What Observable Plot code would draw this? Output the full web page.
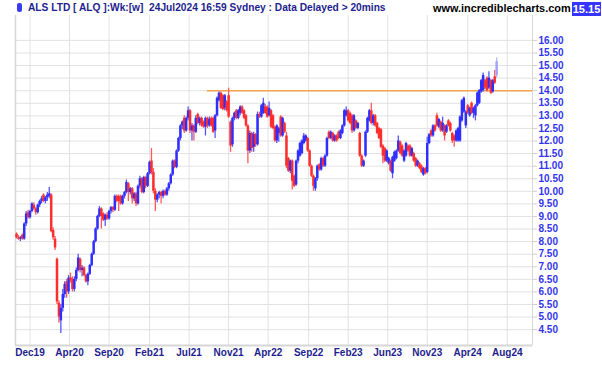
<!DOCTYPE html>
<html>
<head>
<meta charset="utf-8">
<script src="https://cdn.jsdelivr.net/npm/d3@7"></script>
<script src="https://cdn.jsdelivr.net/npm/@observablehq/plot@0.6"></script>
<style>
  html, body { margin: 0; padding: 0; background: #fff; }
  #wrap { position: relative; width: 602px; height: 365px; overflow: hidden;
          font-family: "Liberation Sans", Arial, sans-serif; font-weight: bold; }
  #icon { position: absolute; left: 17px; top: 3px; width: 5px; height: 9px;
          background: #3a3af0; border-radius: 2px; }
  #title { position: absolute; left: 28px; top: 2px; font-size: 10.2px; line-height: 12px;
           color: #1e1e8e; white-space: pre; }
  #site { position: absolute; left: 433px; top: 2px; font-size: 10.9px; line-height: 12px;
          color: #000; white-space: pre; }
  #last { position: absolute; left: 572px; top: 2px; width: 29px; height: 14px;
          background: #3535ff; color: #fff; font-size: 11px; line-height: 14px; text-align: center; }
  #chart { position: absolute; left: 0; top: 0; }
</style>
</head>
<body>
<div id="wrap">
  <div id="chart"></div>
  <div id="icon"></div>
  <div id="title"></div>
  <div id="site"></div>
  <div id="last"></div>
</div>
<script>
// ---- texts ----
const titleText = "ALS LTD [ ALQ ]:Wk:[w]  24Jul2024 16:59 Sydney : Data Delayed > 20mins";
const siteText = "www.incrediblecharts.com";
const lastPriceText = "15.15";

// ---- axis ticks ----
const xTickIndex = [7, 27.5, 48, 69, 89.5, 110, 130.5, 151.5, 172, 192.5, 213, 234, 254.5];
const xTickLabels = ["Dec19","Apr20","Sep20","Feb21","Jul21","Nov21","Apr22","Sep22","Feb23","Jun23","Nov23","Apr24","Aug24"];
const yTicks = [4.5,5.0,5.5,6.0,6.5,7.0,7.5,8.0,8.5,9.0,9.5,10.0,10.5,11.0,11.5,12.0,12.5,13.0,13.5,14.0,14.5,15.0,15.5,16.0];

// ---- resistance line ----
const resistanceLevel = 14.0;
const resistanceFromIndex = 99;

// ---- weekly OHLC (Oct 2019 - Jul 2024) ----
const opens = [
 8.30,8.15,8.10,8.25,8.10,8.70,9.15,8.95,9.20,9.45,
 9.30,9.15,9.45,9.60,9.85,9.60,9.75,9.80,9.85,8.45,
 8.10,7.30,5.55,4.85,5.35,5.90,6.40,6.00,6.55,6.50,
 6.10,6.50,6.85,7.30,6.85,6.95,6.65,6.40,6.70,7.05,
 7.50,8.00,8.50,9.00,9.30,9.10,8.85,9.05,8.90,9.20,
 9.35,9.25,9.80,9.80,9.80,9.50,9.80,9.95,10.30,9.95,
 10.10,9.70,9.90,9.50,10.20,10.50,9.95,10.55,10.20,10.70,
 11.20,10.75,10.00,9.65,9.85,9.95,9.80,10.00,9.85,10.10,
 10.30,10.65,11.20,10.95,11.60,12.10,12.60,12.90,12.40,12.90,
 13.20,12.40,12.60,12.35,13.05,12.70,12.90,12.75,12.55,12.90,
 12.60,12.90,12.90,12.40,13.00,13.60,13.90,13.80,13.30,13.55,
 13.80,12.75,11.85,12.90,13.20,12.90,13.10,13.35,13.20,13.00,
 12.60,11.60,12.30,11.75,12.25,11.85,13.05,12.95,13.10,13.35,
 13.35,13.00,13.20,13.00,12.55,12.00,12.30,12.95,12.20,12.70,
 12.20,11.30,10.80,11.20,10.60,10.25,11.20,11.40,11.50,11.90,
 12.00,12.10,11.60,11.00,10.60,10.10,10.50,11.05,10.85,11.30,
 11.00,11.40,12.35,12.10,12.30,12.00,12.20,12.35,12.10,12.30,
 12.60,13.00,13.20,13.10,13.00,12.40,12.80,12.50,12.30,11.40,
 11.00,11.40,12.35,12.80,13.20,12.70,13.00,12.70,12.50,12.45,
 11.80,11.70,11.20,11.10,11.20,10.70,11.20,11.30,11.60,11.95,
 11.80,11.20,11.40,11.80,11.80,11.40,11.50,11.30,11.00,11.10,
 11.00,10.65,10.90,10.75,11.90,12.40,12.20,12.60,13.00,12.55,
 12.75,12.40,12.60,12.35,12.80,12.70,12.30,12.20,12.00,12.00,
 12.00,12.80,13.15,12.60,13.40,13.00,13.50,13.10,13.00,13.40,
 13.50,13.95,14.00,14.40,14.50,14.10,14.40,13.95,14.55,14.60
];
const highs = [
 8.35,8.25,8.20,8.30,8.75,9.20,9.25,9.25,9.55,9.55,
 9.35,9.50,9.65,9.80,9.90,9.80,9.95,10.15,9.90,8.55,
 8.20,7.35,5.65,5.50,6.10,6.40,6.50,6.65,6.75,6.60,
 6.60,6.95,7.50,7.35,7.05,7.00,6.70,6.75,7.10,7.55,
 8.05,8.55,9.05,9.40,9.35,9.15,9.10,9.15,9.25,9.40,
 9.40,9.85,9.85,9.85,9.85,9.85,10.00,10.45,10.35,10.15,
 10.15,9.95,9.95,10.25,10.60,10.55,10.60,10.60,10.75,11.20,
 11.70,10.90,10.10,9.90,10.00,10.00,10.05,10.05,10.15,10.35,
 10.70,11.25,11.25,11.65,12.15,12.65,12.80,13.00,12.95,13.35,
 13.25,12.70,12.65,13.00,13.10,12.95,12.95,12.80,12.95,12.95,
 12.95,12.95,12.95,13.05,13.75,13.95,13.95,13.85,13.85,13.60,
 14.10,12.80,12.95,13.15,13.25,13.25,13.40,13.40,13.25,13.05,
 12.65,12.40,12.35,12.35,12.30,13.15,13.15,13.45,13.70,13.45,
 13.40,13.55,13.25,13.05,12.60,12.65,12.55,13.00,12.95,12.75,
 12.35,11.35,11.25,11.25,10.65,11.25,11.65,11.95,12.05,12.30,
 12.25,12.15,11.65,11.05,10.65,10.55,11.05,11.10,11.35,11.35,
 11.45,12.15,12.40,12.40,12.35,12.25,12.25,12.40,12.45,12.65,
 13.25,13.35,13.25,13.15,13.05,13.05,12.85,12.75,12.35,11.45,
 11.25,12.40,12.95,13.25,13.50,13.05,13.05,12.75,12.55,12.50,
 11.85,11.75,11.65,11.35,11.25,11.40,11.60,11.65,12.20,12.00,
 11.85,11.65,11.95,11.85,11.85,11.75,11.55,11.35,11.25,11.15,
 11.05,10.95,10.95,12.15,12.30,12.45,12.65,12.65,13.10,12.90,
 12.80,12.95,12.65,12.65,12.85,12.75,12.35,12.25,12.45,12.55,
 13.00,13.65,13.75,13.20,13.45,13.35,13.55,13.35,13.45,13.95,
 14.05,14.45,14.70,14.45,14.55,14.75,14.45,14.45,14.80,15.30
];
const lows = [
 8.10,8.05,8.00,8.05,8.05,8.60,8.90,8.90,9.15,9.25,
 9.05,9.10,9.35,9.50,9.55,9.50,9.60,9.70,8.35,8.05,
 7.65,5.50,4.75,4.35,5.20,5.75,5.75,5.90,6.35,6.00,
 6.00,6.40,6.80,6.75,6.60,6.60,6.35,6.25,6.65,7.00,
 7.45,7.95,8.45,8.95,8.50,8.80,8.60,8.85,8.85,9.10,
 9.15,9.20,9.55,9.20,9.45,9.45,9.70,9.90,9.60,9.85,
 9.50,9.60,9.40,9.45,10.10,9.90,9.90,10.10,10.15,10.65,
 10.65,9.90,9.20,9.55,9.70,9.50,9.70,9.80,9.80,10.00,
 10.25,10.60,10.90,10.90,11.55,12.00,12.45,12.30,12.35,12.80,
 12.30,12.00,12.00,12.30,12.65,12.60,12.55,12.50,12.20,12.50,
 12.55,12.55,12.30,12.10,12.95,13.55,13.25,13.20,13.20,13.15,
 12.90,11.55,11.75,12.80,12.85,12.85,13.00,13.05,12.85,12.55,
 11.10,11.50,11.55,11.55,11.75,11.80,12.90,12.90,13.05,13.05,
 12.90,12.95,12.50,12.45,11.95,11.90,11.95,12.15,12.15,12.30,
 10.90,10.75,10.70,10.05,10.15,10.20,11.10,11.35,11.45,11.85,
 11.95,11.55,10.95,10.55,10.00,10.00,10.40,10.80,10.80,10.95,
 10.95,11.35,12.05,12.05,11.95,11.95,11.95,12.05,12.05,12.25,
 12.55,12.95,12.75,12.65,12.30,12.35,12.45,12.45,11.35,10.95,
 10.95,11.35,12.30,12.75,12.65,12.60,12.55,12.25,12.05,11.70,
 11.10,11.15,11.15,11.05,10.75,10.50,11.15,11.25,11.55,11.45,
 11.35,11.15,11.35,11.55,11.35,11.35,11.15,10.95,10.95,10.85,
 10.70,10.60,10.65,10.70,11.85,12.15,12.15,12.35,12.55,12.50,
 12.35,12.35,12.00,12.30,12.55,12.35,11.90,11.75,11.95,11.95,
 11.95,12.75,13.10,12.50,13.05,12.95,13.05,12.90,12.80,13.35,
 13.45,13.90,13.95,14.05,13.95,14.05,13.85,13.90,14.25,14.50
];
const closes = [
 8.15,8.10,8.15,8.10,8.70,9.10,8.95,9.20,9.50,9.30,
 9.15,9.45,9.60,9.70,9.60,9.75,9.85,9.90,8.40,8.15,
 7.75,5.60,5.00,5.35,5.90,6.30,6.00,6.55,6.45,6.10,
 6.50,6.85,7.35,6.85,6.95,6.65,6.40,6.70,7.05,7.50,
 8.00,8.50,9.00,9.30,9.00,8.85,9.05,8.90,9.20,9.35,
 9.25,9.80,9.60,9.60,9.50,9.80,9.95,10.35,9.95,10.10,
 9.70,9.90,9.50,10.20,10.50,9.95,10.55,10.20,10.70,11.15,
 10.75,10.00,9.65,9.85,9.95,9.80,10.00,9.85,10.10,10.30,
 10.65,11.20,10.95,11.60,12.10,12.60,12.75,12.40,12.90,13.20,
 12.40,12.60,12.35,12.90,12.70,12.90,12.60,12.55,12.90,12.60,
 12.85,12.60,12.35,13.00,13.70,13.90,13.30,13.25,13.80,13.20,
 12.95,11.80,12.90,13.10,12.90,13.20,13.35,13.10,12.90,12.60,
 11.60,12.30,11.70,12.25,11.85,13.05,12.95,13.40,13.50,13.10,
 12.95,13.30,12.55,12.50,12.00,12.60,12.50,12.20,12.90,12.35,
 11.00,10.80,11.20,10.40,10.20,11.20,11.60,11.90,12.00,12.20,
 12.20,11.60,11.00,10.60,10.20,10.50,11.00,10.85,11.30,11.00,
 11.40,12.10,12.10,12.35,12.00,12.20,12.00,12.10,12.40,12.60,
 13.20,13.20,12.80,12.70,12.40,13.00,12.50,12.70,11.40,11.00,
 11.20,12.35,12.90,13.20,12.70,13.00,12.60,12.30,12.10,11.75,
 11.40,11.20,11.60,11.30,10.80,11.35,11.55,11.60,12.00,11.50,
 11.40,11.60,11.90,11.60,11.40,11.70,11.20,11.00,11.20,10.90,
 10.75,10.90,10.70,11.90,12.25,12.20,12.60,12.40,12.60,12.85,
 12.40,12.70,12.20,12.60,12.60,12.40,12.00,12.00,12.40,12.50,
 12.95,13.60,13.70,13.15,13.10,13.30,13.10,13.30,13.40,13.90,
 14.00,14.40,14.60,14.10,14.00,14.50,13.90,14.40,14.30,15.15
];

// ---- build table ----
const bars = opens.map((o, i) => ({i, open: o, high: highs[i], low: lows[i], close: closes[i]}));
const lastIndex = bars.length - 1;
const candleColor = d => {
  const up = d.close >= d.open;
  if (d.i === lastIndex) return up ? "#a3a3ff" : "#ffa3a3";
  return up ? "#2e2eff" : "#ff2e2e";
};
const wickColor = d => {
  const up = d.close >= d.open;
  if (d.i === lastIndex) return up ? "#b5b5ff" : "#ffb5b5";
  return up ? "#5555ff" : "#ff5a5a";
};
const xLabelRows = xTickIndex.map((v, k) => ({i: v, label: xTickLabels[k]}));

const xDomain = [-0.52, 267.6];
const yDomain = [3.87, 16.99];
const grid = "#e2e2e2";

const chart = Plot.plot({
  width: 602,
  height: 365,
  marginLeft: 15,
  marginRight: 70,
  marginTop: 15,
  marginBottom: 20,
  style: {fontFamily: "'Liberation Sans', Arial, sans-serif", fontWeight: "bold", fontSize: "10px", background: "transparent"},
  x: {type: "linear", domain: xDomain, axis: null},
  y: {type: "linear", domain: yDomain, axis: null},
  marks: [
    Plot.ruleY(yTicks, {stroke: grid, strokeWidth: 1}),
    Plot.ruleX(xTickIndex, {stroke: grid, strokeWidth: 1}),
    Plot.ruleX([xDomain[0]], {stroke: "#d6d6d6", strokeWidth: 1.5}),
    Plot.ruleX([xDomain[1]], {stroke: "#d6d6d6", strokeWidth: 1}),
    Plot.ruleY([yDomain[0]], {stroke: "#d6d6d6", strokeWidth: 2}),
    Plot.ruleY([resistanceLevel], {x1: resistanceFromIndex, x2: xDomain[1], stroke: "#f5a24e", strokeWidth: 1.6}),
    Plot.ruleX(bars, {x: "i", y1: "low", y2: "high", stroke: wickColor, strokeWidth: 1.3}),
    Plot.ruleX(bars, {x: "i", y1: "open", y2: "close", stroke: candleColor, strokeWidth: 2.5}),
    Plot.axisY(yTicks, {anchor: "right", tickSize: 4, tickPadding: 2, tickFormat: d => d.toFixed(2),
      stroke: "#cfcfcf", fill: "#3535ee", label: null}),
    Plot.text(xLabelRows, {x: "i", text: "label", frameAnchor: "bottom", dy: 10, fill: "#1e1e8e"})
  ]
});

document.getElementById("chart").appendChild(chart);
document.getElementById("title").textContent = titleText;
document.getElementById("site").textContent = siteText;
document.getElementById("last").textContent = lastPriceText;
</script>
</body>
</html>
